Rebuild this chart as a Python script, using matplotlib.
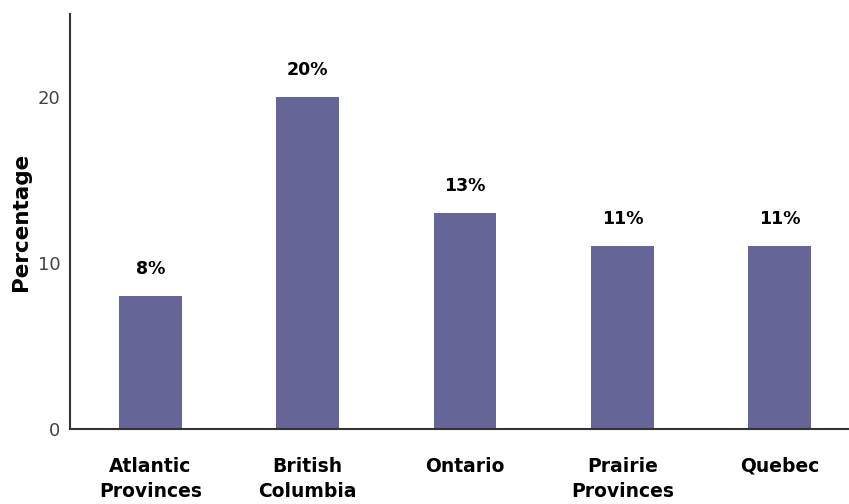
import matplotlib
matplotlib.use("Agg")
import matplotlib.pyplot as plt

regions = ["Atlantic\nProvinces", "British\nColumbia", "Ontario", "Prairie\nProvinces", "Quebec"]
values = [8, 20, 13, 11, 11]
value_labels = ["8%", "20%", "13%", "11%", "11%"]

plt.rcParams['font.family'] = ['DejaVu Sans']

fig = plt.figure(figsize=(8.49, 5.04), dpi=100)
ax = fig.add_axes([70 / 849, 75 / 504, 779 / 849, 415 / 504])

x = range(len(regions))
ax.bar(x, values, width=0.4, color="#656597", edgecolor="none")

# labels au-dessus des barres
for xi, v, lab in zip(x, values, value_labels):
    ax.annotate(lab, (xi, v), xytext=(0, 13), textcoords="offset points",
                ha="center", va="bottom", fontsize=12.5, fontweight="bold")

ax.set_xlim(-0.51, 4.44)
ax.set_ylim(0, 25)
ax.set_yticks([0, 10, 20])
ax.set_xticks(list(x))
ax.set_xticklabels(regions, fontsize=13.5, fontweight="bold", linespacing=1.4)
ax.tick_params(axis="x", length=0, pad=20)
ax.tick_params(axis="y", length=0, pad=7, labelsize=13, labelcolor="#444444")

ax.set_ylabel("Percentage", fontsize=15.5, fontweight="bold", labelpad=5)

ax.spines["top"].set_visible(False)
ax.spines["right"].set_visible(False)
for s in ["left", "bottom"]:
    ax.spines[s].set_color("#333333")
    ax.spines[s].set_linewidth(1.5)

fig.savefig("out.png", dpi=100)
